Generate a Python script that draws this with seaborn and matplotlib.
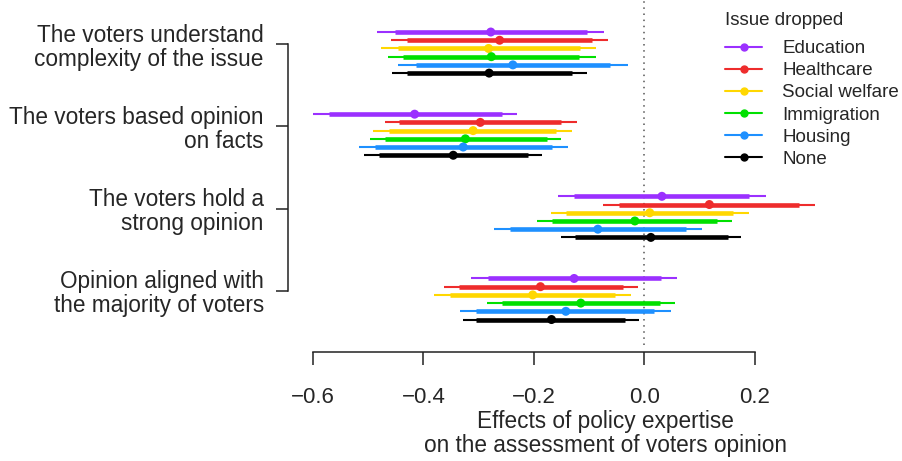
import matplotlib
matplotlib.use('Agg')
import pandas as pd
import matplotlib.pyplot as plt
import seaborn as sns
from matplotlib.lines import Line2D

# Issues (legend order) and outcome questions (top to bottom)
issues = ['Education', 'Healthcare', 'Social welfare', 'Immigration', 'Housing', 'None']
colors = ['#9B30FF', '#EE2C2C', '#FFD700', '#00E000', '#1E90FF', '#000000']
outcomes = ['The voters understand\ncomplexity of the issue',
            'The voters based opinion\non facts',
            'The voters hold a\nstrong opinion',
            'Opinion aligned with\nthe majority of voters']

# One row per outcome, one value per issue
estimate = [[-0.278, -0.262, -0.282, -0.277, -0.238, -0.281],
            [-0.416, -0.297, -0.310, -0.324, -0.328, -0.346],
            [0.032, 0.118, 0.010, -0.017, -0.084, 0.012],
            [-0.127, -0.188, -0.202, -0.115, -0.142, -0.168]]
ci95_low = [[-0.484, -0.459, -0.476, -0.465, -0.446, -0.457],
            [-0.601, -0.470, -0.491, -0.497, -0.516, -0.507],
            [-0.157, -0.074, -0.168, -0.194, -0.272, -0.151],
            [-0.313, -0.363, -0.380, -0.284, -0.334, -0.329]]
ci95_high = [[-0.073, -0.065, -0.087, -0.088, -0.030, -0.103],
             [-0.231, -0.122, -0.130, -0.150, -0.139, -0.185],
             [0.220, 0.309, 0.190, 0.159, 0.105, 0.176],
             [0.059, -0.012, -0.024, 0.056, 0.048, -0.009]]
ci90_low = [[-0.452, -0.429, -0.446, -0.437, -0.414, -0.429],
            [-0.571, -0.444, -0.462, -0.470, -0.488, -0.481],
            [-0.127, -0.045, -0.141, -0.167, -0.243, -0.126],
            [-0.283, -0.335, -0.352, -0.258, -0.304, -0.304]]
ci90_high = [[-0.104, -0.095, -0.116, -0.118, -0.062, -0.130],
             [-0.258, -0.150, -0.159, -0.177, -0.167, -0.210],
             [0.190, 0.280, 0.161, 0.132, 0.075, 0.151],
             [0.030, -0.039, -0.053, 0.028, 0.018, -0.034]]

rows = []
for g in range(len(outcomes)):
    for r, issue in enumerate(issues):
        rows.append({'issue': issue, 'y': g * 10 + r,
                     'est': estimate[g][r],
                     'lo95': ci95_low[g][r], 'hi95': ci95_high[g][r],
                     'lo90': ci90_low[g][r], 'hi90': ci90_high[g][r]})
df = pd.DataFrame(rows)
palette = dict(zip(issues, colors))
df['color'] = df['issue'].map(palette)

sns.set_style('white')
plt.rcParams['font.family'] = ['Liberation Sans', 'DejaVu Sans']

fig = plt.figure(figsize=(9.02, 4.61), dpi=100)
ax = fig.add_axes([296.5 / 902, (461 - 345) / 461, (865 - 296.5) / 902, 345 / 461])

ax.axvline(0, color='#555555', linestyle=(0, (1, 3)), lw=1.1, zorder=0)
ax.hlines(df['y'], df['lo95'], df['hi95'], colors=df['color'], lw=1.5)
ax.hlines(df['y'], df['lo90'], df['hi90'], colors=df['color'], lw=3.3)
sns.scatterplot(data=df, x='est', y='y', hue='issue', palette=palette,
                s=42, linewidth=0, legend=False, ax=ax, zorder=3)

ax.set_xlim(-0.63, 0.40)
ax.set_ylim(38.1, -3.9)
ax.set_xticks([-0.6, -0.4, -0.2, 0.0, 0.2])
ax.set_xticklabels(['\u22120.6', '\u22120.4', '\u22120.2', '0.0', '0.2'])
ytick_pos = [g * 10 + 1.5 for g in range(len(outcomes))]
ax.set_yticks(ytick_pos)
ax.set_yticklabels(outcomes, ha='right', multialignment='right')

for side in ['top', 'right']:
    ax.spines[side].set_visible(False)
ax.spines['left'].set_bounds(ytick_pos[0], ytick_pos[-1])
ax.spines['left'].set_position(('outward', 6))
ax.spines['bottom'].set_bounds(-0.6, 0.2)
ax.spines['bottom'].set_position(('outward', 5))
for side in ['left', 'bottom']:
    ax.spines[side].set_color('#222222')
    ax.spines[side].set_linewidth(1.1)

ax.tick_params(axis='x', direction='out', length=9, width=1.1, color='#222222',
               labelsize=16, pad=16, bottom=True)
ax.tick_params(axis='y', direction='out', length=8.5, width=1.1, color='#222222',
               labelsize=16.3, pad=9, left=True)

ax.set_xlabel('Effects of policy expertise\non the assessment of voters opinion',
              fontsize=16.3, labelpad=2, linespacing=1.05)
ax.xaxis.label.set_x((605 - 296.5) / (865 - 296.5))
ax.set_ylabel('')
for lab in ax.get_yticklabels():
    lab.set_linespacing(1.05)

handles = [Line2D([0], [0], color=c, lw=1.5, marker='o', markersize=5) for c in colors]
leg = fig.legend(handles, issues, title='Issue dropped', loc='upper left',
                 bbox_to_anchor=(708 / 902, 1 + 5 / 461), frameon=False,
                 fontsize=13.5, title_fontsize=13.5, handlelength=2.0,
                 handletextpad=1.05, labelspacing=0.27, alignment='left')
leg._legend_box.sep = 8

fig.savefig('out.png', dpi=100)
